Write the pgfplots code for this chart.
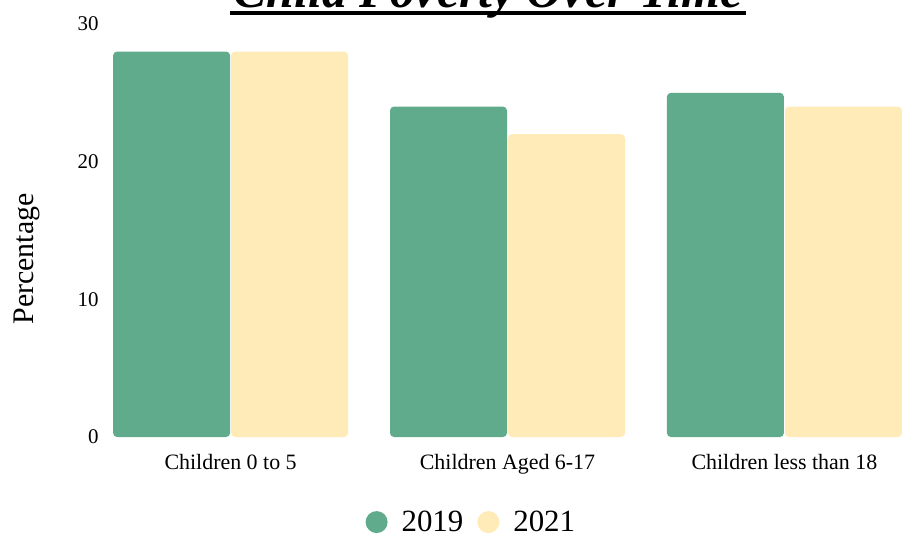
\documentclass[border=0pt]{standalone}
\usepackage{fontspec}
\setmainfont{Liberation Serif}
\usepackage{pgfplots}
\pgfplotsset{compat=1.18}
\definecolor{cgreen}{HTML}{5FAB8B}
\definecolor{cyellow}{HTML}{FFEBB7}
\begin{document}
\begin{tikzpicture}[x=1bp,y=1bp]
\begin{axis}[
  at={(0,0)}, anchor=south west,
  scale only axis, width=803bp, height=413bp,
  xmin=-0.45, xmax=2.45, ymin=0, ymax=30,
  ybar=1bp, bar width=117bp,
  xtick={0,1,2},
  xticklabels={Children 0 to 5, Children Aged 6-17, Children less than 18},
  ytick={0,10,20,30},
  axis line style={draw=none},
  major tick length=0pt,
  /pgf/number format/assume math mode=true,
  tick label style={font=\fontsize{21}{24}\selectfont},
  xticklabel style={font=\fontsize{22}{26}\selectfont, yshift=-14bp},
  yticklabel style={xshift=-4bp},
  ylabel={Percentage},
  ylabel style={font=\fontsize{30}{34}\selectfont, at={(axis description cs:-0.098,0.431)}, anchor=center},
  legend columns=2,
  legend style={draw=none, at={(axis description cs:0.455,-0.206)}, anchor=center,
    font=\fontsize{31}{34}\selectfont, column sep=12bp},
  legend image code/.code={\fill[#1] (-6bp,0bp) circle (11bp);},
  clip=false,
]
\addplot[fill=cgreen, draw=none, rounded corners=4bp] coordinates {(0,28) (1,24) (2,25)};
\addplot[fill=cyellow, draw=none, rounded corners=4bp] coordinates {(0,28) (1,22) (2,24)};
\legend{2019, 2021}
\end{axis}
\node[anchor=base, font=\fontsize{50}{56}\selectfont\bfseries\itshape] (t) at (382bp,429bp) {Child Poverty Over Time};
\draw[line width=3.5bp] ([yshift=-5bp]t.base west) -- ([yshift=-5bp]t.base east);
\pgfresetboundingbox
\useasboundingbox (-106bp,-100bp) rectangle (805bp,437bp);
\end{tikzpicture}
\end{document}
